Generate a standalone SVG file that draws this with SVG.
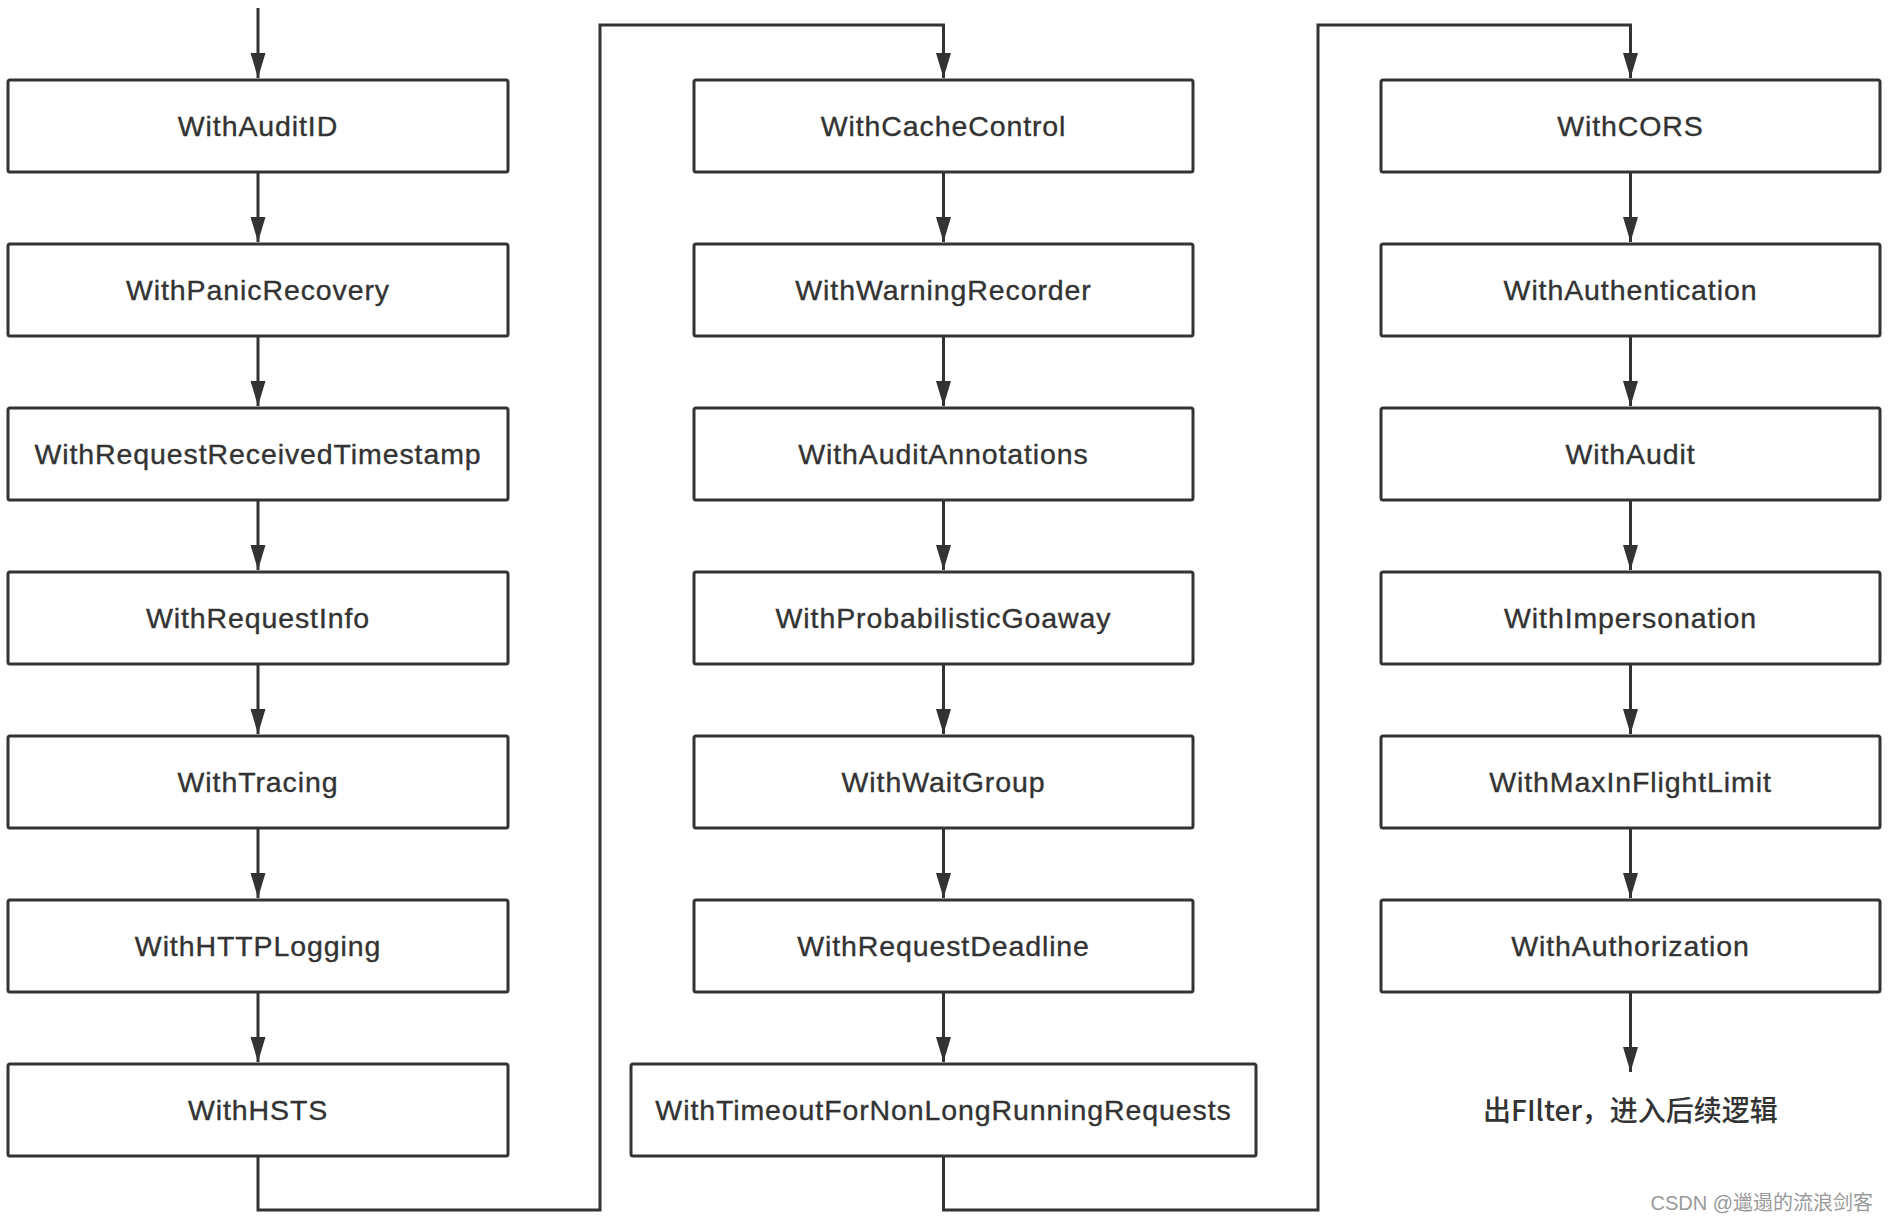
<svg xmlns="http://www.w3.org/2000/svg" width="1888" height="1222" viewBox="0 0 1888 1222">
<style>
.box{fill:#fff;stroke:#333;stroke-width:3}
.lbl{font-family:"Liberation Sans",Arial,sans-serif;font-size:28.5px;fill:#333;stroke:#333;stroke-width:0.35;text-anchor:middle;letter-spacing:0.9px}
.end{font-family:"Noto Sans CJK SC","Liberation Sans",sans-serif;font-size:28px;font-weight:500;fill:#333;text-anchor:middle}
.wm{font-family:"Liberation Sans","Noto Sans CJK SC",sans-serif;font-size:20px;fill:#999;text-anchor:end}
.con{fill:none;stroke:#333;stroke-width:3}
</style>
<defs>
<marker id="arr" markerUnits="userSpaceOnUse" markerWidth="26" markerHeight="16" refX="25" refY="8" orient="auto">
<path d="M0,0.5 L25,8 L0,15.5 z" fill="#333"/>
</marker>
</defs>
<rect width="1888" height="1222" fill="#fff"/>
<g id="connectors">
<path class="con" d="M258,8 V78" marker-end="url(#arr)"/>
<path class="con" d="M258,172 V242" marker-end="url(#arr)"/>
<path class="con" d="M258,336 V406" marker-end="url(#arr)"/>
<path class="con" d="M258,500 V570" marker-end="url(#arr)"/>
<path class="con" d="M258,664 V734" marker-end="url(#arr)"/>
<path class="con" d="M258,828 V898" marker-end="url(#arr)"/>
<path class="con" d="M258,992 V1062" marker-end="url(#arr)"/>
<path class="con" d="M258,1156 V1210 H600 V25 H943.5 V78" marker-end="url(#arr)"/>
<path class="con" d="M943.5,172 V242" marker-end="url(#arr)"/>
<path class="con" d="M943.5,336 V406" marker-end="url(#arr)"/>
<path class="con" d="M943.5,500 V570" marker-end="url(#arr)"/>
<path class="con" d="M943.5,664 V734" marker-end="url(#arr)"/>
<path class="con" d="M943.5,828 V898" marker-end="url(#arr)"/>
<path class="con" d="M943.5,992 V1062" marker-end="url(#arr)"/>
<path class="con" d="M943.5,1156 V1210 H1318 V25 H1630.5 V78" marker-end="url(#arr)"/>
<path class="con" d="M1630.5,172 V242" marker-end="url(#arr)"/>
<path class="con" d="M1630.5,336 V406" marker-end="url(#arr)"/>
<path class="con" d="M1630.5,500 V570" marker-end="url(#arr)"/>
<path class="con" d="M1630.5,664 V734" marker-end="url(#arr)"/>
<path class="con" d="M1630.5,828 V898" marker-end="url(#arr)"/>
<path class="con" d="M1630.5,992 V1072" marker-end="url(#arr)"/>
</g>
<g id="n1"><rect class="box" x="8" y="80" width="500" height="92" rx="2"/><text class="lbl" x="258" y="136">WithAuditID</text></g>
<g id="n2"><rect class="box" x="8" y="244" width="500" height="92" rx="2"/><text class="lbl" x="258" y="300">WithPanicRecovery</text></g>
<g id="n3"><rect class="box" x="8" y="408" width="500" height="92" rx="2"/><text class="lbl" x="258" y="464">WithRequestReceivedTimestamp</text></g>
<g id="n4"><rect class="box" x="8" y="572" width="500" height="92" rx="2"/><text class="lbl" x="258" y="628">WithRequestInfo</text></g>
<g id="n5"><rect class="box" x="8" y="736" width="500" height="92" rx="2"/><text class="lbl" x="258" y="792">WithTracing</text></g>
<g id="n6"><rect class="box" x="8" y="900" width="500" height="92" rx="2"/><text class="lbl" x="258" y="956">WithHTTPLogging</text></g>
<g id="n7"><rect class="box" x="8" y="1064" width="500" height="92" rx="2"/><text class="lbl" x="258" y="1120">WithHSTS</text></g>
<g id="n8"><rect class="box" x="694" y="80" width="499" height="92" rx="2"/><text class="lbl" x="943.5" y="136">WithCacheControl</text></g>
<g id="n9"><rect class="box" x="694" y="244" width="499" height="92" rx="2"/><text class="lbl" x="943.5" y="300">WithWarningRecorder</text></g>
<g id="n10"><rect class="box" x="694" y="408" width="499" height="92" rx="2"/><text class="lbl" x="943.5" y="464">WithAuditAnnotations</text></g>
<g id="n11"><rect class="box" x="694" y="572" width="499" height="92" rx="2"/><text class="lbl" x="943.5" y="628">WithProbabilisticGoaway</text></g>
<g id="n12"><rect class="box" x="694" y="736" width="499" height="92" rx="2"/><text class="lbl" x="943.5" y="792">WithWaitGroup</text></g>
<g id="n13"><rect class="box" x="694" y="900" width="499" height="92" rx="2"/><text class="lbl" x="943.5" y="956">WithRequestDeadline</text></g>
<g id="n14"><rect class="box" x="631" y="1064" width="625" height="92" rx="2"/><text class="lbl" x="943.5" y="1120">WithTimeoutForNonLongRunningRequests</text></g>
<g id="n15"><rect class="box" x="1381" y="80" width="499" height="92" rx="2"/><text class="lbl" x="1630.5" y="136">WithCORS</text></g>
<g id="n16"><rect class="box" x="1381" y="244" width="499" height="92" rx="2"/><text class="lbl" x="1630.5" y="300">WithAuthentication</text></g>
<g id="n17"><rect class="box" x="1381" y="408" width="499" height="92" rx="2"/><text class="lbl" x="1630.5" y="464">WithAudit</text></g>
<g id="n18"><rect class="box" x="1381" y="572" width="499" height="92" rx="2"/><text class="lbl" x="1630.5" y="628">WithImpersonation</text></g>
<g id="n19"><rect class="box" x="1381" y="736" width="499" height="92" rx="2"/><text class="lbl" x="1630.5" y="792">WithMaxInFlightLimit</text></g>
<g id="n20"><rect class="box" x="1381" y="900" width="499" height="92" rx="2"/><text class="lbl" x="1630.5" y="956">WithAuthorization</text></g>
<g id="n21"><text class="end" x="1630.5" y="1121">出FIlter，进入后续逻辑</text></g>
<text class="wm" x="1873" y="1210">CSDN @邋遢的流浪剑客</text>
</svg>
